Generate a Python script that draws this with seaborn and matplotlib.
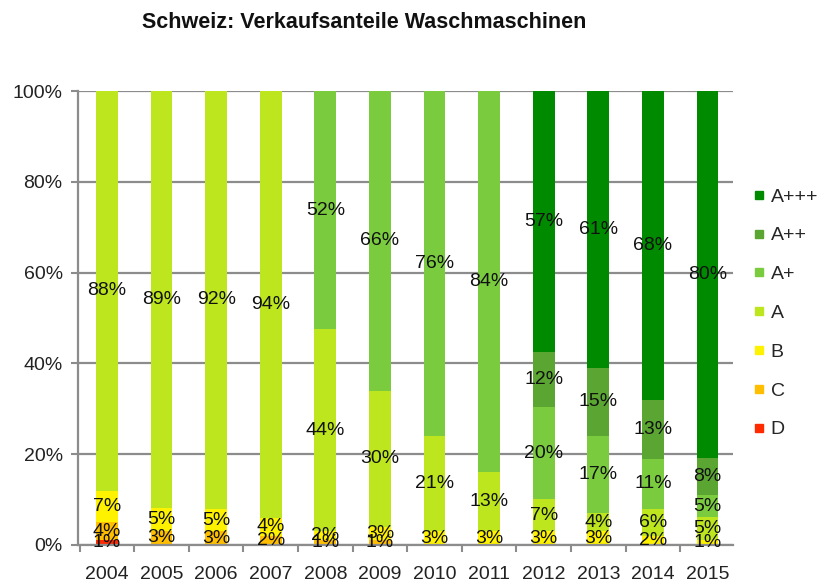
import numpy as np
import pandas as pd
import matplotlib.pyplot as plt
from matplotlib.lines import Line2D
from matplotlib.ticker import FixedLocator
import seaborn as sns

# Verkaufsanteile nach Energieeffizienzklasse (in %)
jahre = ['2004', '2005', '2006', '2007', '2008', '2009',
         '2010', '2011', '2012', '2013', '2014', '2015']
klassen = ['D', 'C', 'B', 'A', 'A+', 'A++', 'A+++']
anteil_D = [1, 0, 0, 0, 0, 0, 0, 0, 0, 0, 0, 0]
anteil_C = [4, 3, 3, 2, 1, 1, 0, 0, 0, 0, 0, 0]
anteil_B = [7, 5, 5, 4, 2, 3, 3, 3, 3, 3, 2, 1]
anteil_A = [88, 89, 92, 94, 44, 30, 21, 13, 7, 4, 6, 5]
anteil_Ap = [0, 0, 0, 0, 52, 66, 76, 84, 20, 17, 11, 5]
anteil_App = [0, 0, 0, 0, 0, 0, 0, 0, 12, 15, 13, 8]
anteil_Appp = [0, 0, 0, 0, 0, 0, 0, 0, 57, 61, 68, 80]

farben = {'D': '#ff2a00', 'C': '#ffbf00', 'B': '#fff200', 'A': '#bde61e',
          'A+': '#7acc3e', 'A++': '#5ba532', 'A+++': '#008a00'}

df = pd.DataFrame({'D': anteil_D, 'C': anteil_C, 'B': anteil_B, 'A': anteil_A,
                   'A+': anteil_Ap, 'A++': anteil_App, 'A+++': anteil_Appp},
                  index=jahre)
# 100%-gestapelt: auf Summe 100 normieren
anteil = df.div(df.sum(axis=1), axis=0) * 100
kumuliert = anteil.cumsum(axis=1)

sns.set_style('white')
plt.rcParams['font.family'] = ['Liberation Sans', 'DejaVu Sans']

fig = plt.figure(figsize=(8.22, 5.82), dpi=100)
ax = fig.add_axes([0.0949, 0.0636, 0.797, 0.78])

# von oben nach unten zeichnen, kleinere kumulierte Balken überdecken die grösseren
for k in reversed(klassen):
    sns.barplot(x=jahre, y=kumuliert[k].values, color=farben[k], width=0.4,
                saturation=1, linewidth=0, errorbar=None, ax=ax, zorder=2)

# Prozentbeschriftungen in der Mitte der Segmente
for i, jahr in enumerate(jahre):
    unten = 0
    for k in klassen:
        h = anteil.loc[jahr, k]
        if df.loc[jahr, k] > 0:
            ax.text(i, unten + h / 2, f"{df.loc[jahr, k]}%", ha='center', va='center',
                    fontsize=14, color='#111111', zorder=3)
        unten += h

grau = '#8c8c8c'
ax.set_ylim(0, 100)
ax.set_xlim(-0.53, 11.47)
ax.set_yticks(np.arange(0, 101, 20))
ax.set_yticklabels([f"{v}%" for v in range(0, 101, 20)])
ax.yaxis.grid(True, color=grau, linewidth=1.6)
ax.set_axisbelow(True)
ax.tick_params(axis='y', left=True, length=5, width=1.5, color=grau, pad=6,
               labelsize=14, labelcolor='#222222')
ax.tick_params(axis='x', which='major', length=0, pad=15, labelsize=14,
               labelcolor='#222222')
ax.xaxis.set_minor_locator(FixedLocator(np.arange(-0.5, 12, 1)))
ax.tick_params(axis='x', which='minor', bottom=True, length=5, width=1.5, color=grau)
for s in ['top', 'right']:
    ax.spines[s].set_visible(False)
for s in ['left', 'bottom']:
    ax.spines[s].set_color(grau)
    ax.spines[s].set_linewidth(1.6)
ax.set_xlabel('')
ax.set_ylabel('')

griffe = [Line2D([0], [0], marker='s', linestyle='none', markersize=6,
                 markerfacecolor=farben[k], markeredgecolor=farben[k])
          for k in reversed(klassen)]
fig.legend(griffe, list(reversed(klassen)), loc='center left',
           bbox_to_anchor=(0.915, 0.462), frameon=False, fontsize=14,
           handlelength=0.7, handletextpad=0.25, labelspacing=1.09,
           borderpad=0, borderaxespad=0)

fig.text(0.443, 0.962, 'Schweiz: Verkaufsanteile Waschmaschinen', ha='center',
         va='center', fontsize=15.5, fontweight='bold', color='#111111')

fig.savefig('out.png', dpi=100)
